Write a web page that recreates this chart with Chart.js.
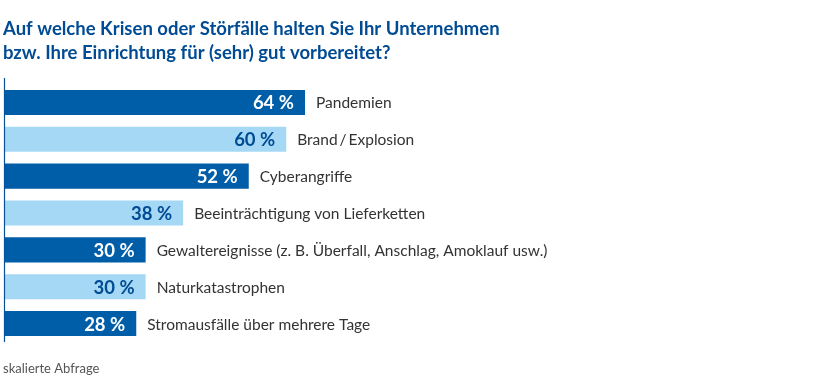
<!DOCTYPE html>
<html>
<head>
<meta charset="utf-8">
<script src="https://cdn.jsdelivr.net/npm/chart.js@4.4.0/dist/chart.umd.min.js"></script>
<style>
  html, body { margin: 0; padding: 0; background: #fff; }
  #wrap { width: 820px; height: 388px; position: relative; }
</style>
</head>
<body>
<div id="wrap"><canvas id="grafico"></canvas></div>
<script>
const titel = [
    "Auf welche Krisen oder Störfälle halten Sie Ihr Unternehmen",
    "bzw. Ihre Einrichtung für (sehr) gut vorbereitet?"
];
const kategorien = [
    "Pandemien",
    "Brand\u2009/\u2009Explosion",
    "Cyberangriffe",
    "Beeinträchtigung von Lieferketten",
    "Gewaltereignisse (z. B. Überfall, Anschlag, Amoklauf usw.)",
    "Naturkatastrophen",
    "Stromausfälle über mehrere Tage"
];
const werte = [64, 60, 52, 38, 30, 30, 28];
const fussnote = "skalierte Abfrage";

const DUNKEL = "#005ea8";
const HELL = "#a5d8f5";
const TITELFARBE = "#004b93";
const FONT = "Lato, 'Open Sans', sans-serif";

const farben = werte.map((v, i) => i % 2 === 0 ? DUNKEL : HELL);

/* Beschriftungen: Titel, Werte in den Balken, Kategorien, Achse, Fussnote */
const beschriftung = {
    id: "beschriftung",
    afterDatasetsDraw(chart) {
        const ctx = chart.ctx;
        const meta = chart.getDatasetMeta(0);
        const area = chart.chartArea;
        ctx.save();

        // Achsenlinie
        ctx.strokeStyle = "#0a4f9a";
        ctx.lineWidth = 1.2;
        ctx.beginPath();
        ctx.moveTo(area.left - 0.5, area.top - 6);
        ctx.lineTo(area.left - 0.5, area.bottom);
        ctx.stroke();

        ctx.textBaseline = "middle";
        meta.data.forEach((bar, i) => {
            ctx.font = "bold 18.5px " + FONT;
            ctx.textAlign = "right";
            ctx.fillStyle = i % 2 === 0 ? "#ffffff" : TITELFARBE;
            ctx.fillText(werte[i] + " %", bar.x - 11, bar.y + 1);

            ctx.font = "15.5px " + FONT;
            ctx.textAlign = "left";
            ctx.fillStyle = "#333333";
            ctx.fillText(kategorien[i], bar.x + 11, bar.y + 1);
        });

        // Titel
        ctx.textBaseline = "alphabetic";
        ctx.textAlign = "left";
        ctx.fillStyle = TITELFARBE;
        ctx.font = "bold 18.5px " + FONT;
        ctx.fillText(titel[0], 3, 35);
        ctx.fillText(titel[1], 3, 59);

        // Fussnote
        ctx.fillStyle = "#555555";
        ctx.font = "13px " + FONT;
        ctx.fillText(fussnote, 3, 373);

        ctx.restore();
    }
};

new Chart(document.getElementById("grafico"), {
    type: "bar",
    data: {
        labels: kategorien,
        datasets: [{
            data: werte,
            backgroundColor: farben,
            borderWidth: 0,
            categoryPercentage: 0.68,
            barPercentage: 1
        }]
    },
    options: {
        indexAxis: "y",
        responsive: true,
        maintainAspectRatio: false,
        animation: false,
        layout: { padding: { top: 84, bottom: 46, left: 5, right: 65 } },
        plugins: {
            legend: { display: false },
            tooltip: { enabled: false }
        },
        scales: {
            x: { display: false, min: 0, max: 160 },
            y: { display: false }
        }
    },
    plugins: [beschriftung]
});
</script>
</body>
</html>
